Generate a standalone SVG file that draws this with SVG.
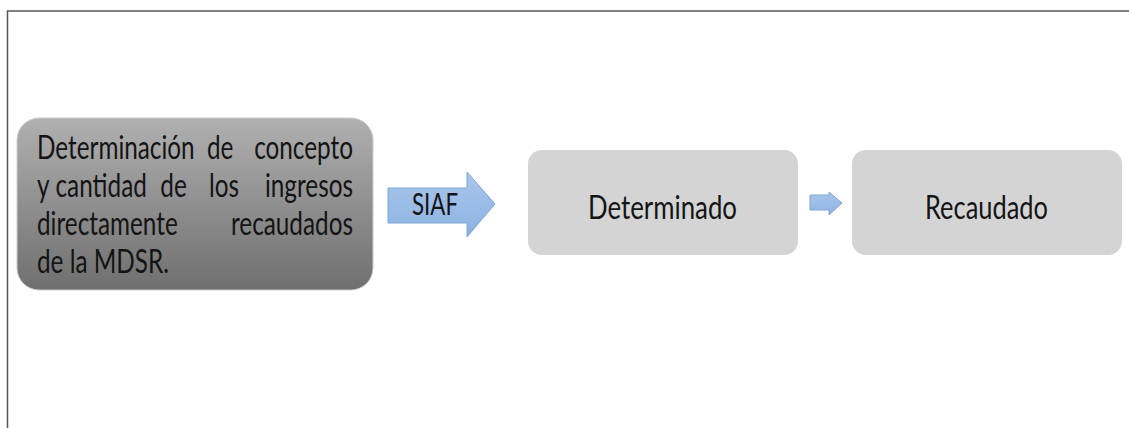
<svg xmlns="http://www.w3.org/2000/svg" width="1129" height="428" viewBox="0 0 1129 428">
  <style>
    .t { font-family: Lato, "Open Sans", "Liberation Sans", sans-serif; fill: #141414; }
    .big { font-size: 32px; }
    .mid { font-size: 30px; }
    .end { text-anchor: end; }
    .light { fill: #d4d4d4; }
    .arrow { fill: url(#blueGrad); stroke: #7fa6d6; stroke-width: 1; }
  </style>
  <defs>
    <linearGradient id="darkGrad" x1="0" y1="0" x2="0" y2="1">
      <stop offset="0" stop-color="#b0b0b0"/>
      <stop offset="1" stop-color="#6f6f6f"/>
    </linearGradient>
    <linearGradient id="blueGrad" x1="0" y1="0" x2="0" y2="1">
      <stop offset="0" stop-color="#a9c6ec"/>
      <stop offset="1" stop-color="#8db3e2"/>
    </linearGradient>
  </defs>
  <rect x="0" y="0" width="1129" height="428" fill="#ffffff"/>
  <path d="M7.5,428 V11 H1129" fill="none" stroke="#555555" stroke-width="1.5"/>

  <g id="node-determinacion">
    <rect x="17" y="118" width="356" height="172" rx="22" fill="url(#darkGrad)" stroke="#cccccc" stroke-width="1"/>
    <g transform="scale(0.76,1)">
      <text class="t big" x="48.68" y="159">Determinación</text>
      <text class="t big" x="272.37" y="159">de</text>
      <text class="t big end" x="464.47" y="159">concepto</text>
      <text class="t big" x="48.68" y="197">y</text>
      <text class="t big" x="73" y="197">cantidad</text>
      <text class="t big" x="211" y="197">de</text>
      <text class="t big" x="275" y="197">los</text>
      <text class="t big end" x="464.47" y="197">ingresos</text>
      <text class="t big" x="48.68" y="235">directamente</text>
      <text class="t big end" x="464.47" y="235">recaudados</text>
      <text class="t big" x="48.68" y="273">de la MDSR.</text>
    </g>
  </g>

  <g id="connectors">
    <g id="arrow-siaf">
      <path class="arrow" d="M388,188 H467 V172 L495,204 L467,237 V223 H388 Z"/>
      <text class="t mid" x="412" y="215" textLength="46" lengthAdjust="spacingAndGlyphs">SIAF</text>
    </g>
    <path id="arrow-small" class="arrow" d="M810,195 H829 V192 L842,203 L829,215 V210 H810 Z"/>
  </g>

  <g id="node-determinado">
    <rect class="light" x="528" y="150" width="270" height="105" rx="14"/>
    <text class="t big" x="588" y="219" textLength="149" lengthAdjust="spacingAndGlyphs">Determinado</text>
  </g>

  <g id="node-recaudado">
    <rect class="light" x="852" y="150" width="270" height="105" rx="14"/>
    <text class="t big" x="925" y="219" textLength="123" lengthAdjust="spacingAndGlyphs">Recaudado</text>
  </g>
</svg>
